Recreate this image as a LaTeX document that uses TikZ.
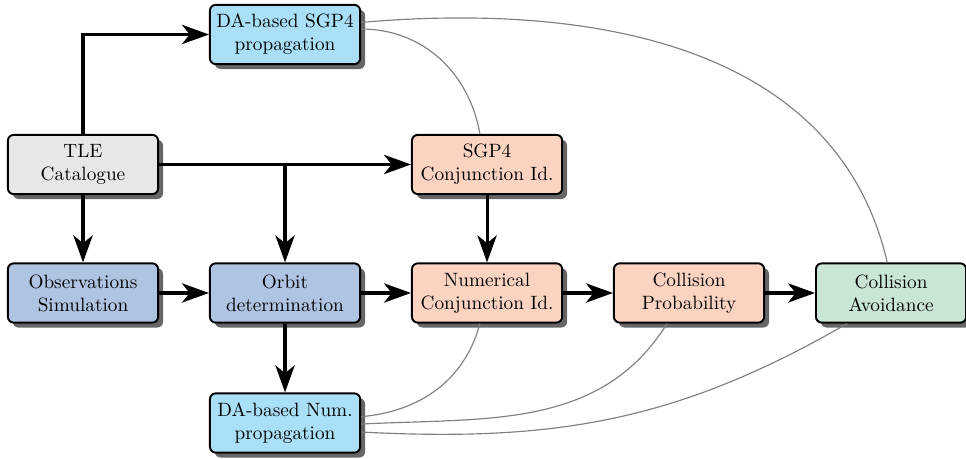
\documentclass[tikz,border=0pt]{standalone}
\usepackage{tikz}
\usetikzlibrary{arrows.meta,shadows}
\definecolor{tlegray}{HTML}{E6E7E8}
\definecolor{odblue}{HTML}{AFC3E3}
\definecolor{dablue}{HTML}{A9DFF7}
\definecolor{conjred}{HTML}{FBD3C1}
\definecolor{avoidgreen}{HTML}{C9E5D4}
\begin{document}
\begin{tikzpicture}[
  block/.style={draw, rounded corners=3pt, line width=1pt, minimum width=2.74cm,
    minimum height=1.08cm, align=center,
    drop shadow={shadow xshift=0.09cm, shadow yshift=-0.09cm, fill=black!60, opacity=1}},
  flow/.style={line width=1.6pt, -{Stealth[length=14pt, width=10pt, inset=4pt]}},
  link/.style={gray, semithick}
]
  \useasboundingbox (-1.514,3.0) rectangle (16.106,-5.372);
  \node[block, fill=tlegray] (tle) at (0,0) {TLE\\Catalogue};
  \node[block, fill=dablue] (dasgp) at (3.685,2.371) {DA-based SGP4\\propagation};
  \node[block, fill=conjred] (sgpconj) at (7.37,0) {SGP4\\Conjunction Id.};
  \node[block, fill=odblue] (obs) at (0,-2.344) {Observations\\Simulation};
  \node[block, fill=odblue] (od) at (3.685,-2.344) {Orbit\\determination};
  \node[block, fill=conjred] (numconj) at (7.37,-2.344) {Numerical\\Conjunction Id.};
  \node[block, fill=conjred] (colprob) at (11.054,-2.344) {Collision\\Probability};
  \node[block, fill=avoidgreen] (colavoid) at (14.739,-2.344) {Collision\\Avoidance};
  \node[block, fill=dablue] (danum) at (3.685,-4.715) {DA-based Num.\\propagation};

  \draw[flow] (tle.north) |- (dasgp.west);
  \draw[flow] (tle.east) -- (sgpconj.west);
  \draw[flow] (tle.east -| od.north) -- (od.north);
  \draw[flow] (tle.south) -- (obs.north);
  \draw[flow] (obs.east) -- (od.west);
  \draw[flow] (od.east) -- (numconj.west);
  \draw[flow] (od.south) -- (danum.north);
  \draw[flow] (sgpconj.south) -- (numconj.north);
  \draw[flow] (numconj.east) -- (colprob.west);
  \draw[flow] (colprob.east) -- (colavoid.west);

  \draw[link] ([yshift=0.22cm]dasgp.east) to[out=5, in=103] ([xshift=-0.07cm]colavoid.north);
  \draw[link] ([yshift=0.1cm]dasgp.east) to[out=0, in=100] ([xshift=-0.13cm]sgpconj.north);
  \draw[link] ([yshift=0.115cm]danum.east) to[out=5, in=-105] ([xshift=-0.13cm]numconj.south);
  \draw[link] ([yshift=-0.02cm]danum.east) to[out=3, in=-122] ([xshift=-0.4cm]colprob.south);
  \draw[link] ([yshift=-0.165cm]danum.east) to[out=-3, in=-150] ([xshift=-0.8cm]colavoid.south);
\end{tikzpicture}
\end{document}
